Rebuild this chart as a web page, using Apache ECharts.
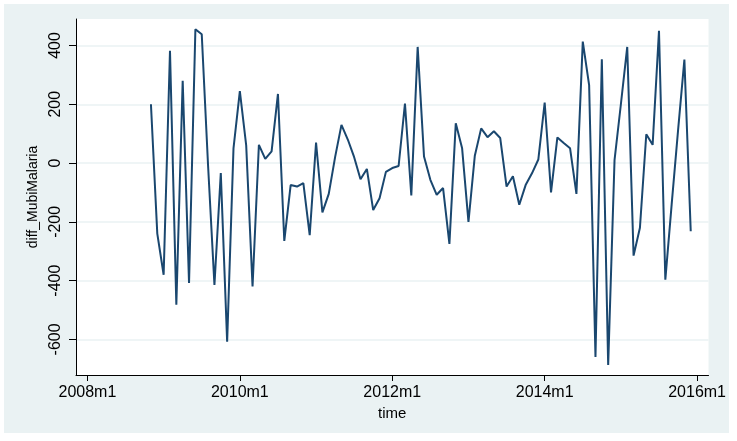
<!DOCTYPE html>
<html>
<head>
<meta charset="utf-8">
<script src="https://cdn.jsdelivr.net/npm/echarts@6/dist/echarts.min.js"></script>
<style>
  html, body { margin: 0; padding: 0; background: #ffffff; }
  #frame { position: absolute; left: 4px; top: 4px; width: 725px; height: 429px; background: #eaf2f3; }
  #chart { width: 725px; height: 429px; }
</style>
</head>
<body>
<div id="frame"><div id="chart"></div></div>
<script>
// monthly differences, first value is 2008m11
const firstYear = 2008;
const firstMonth = 11;
const vals2008 = [200, -240];
const vals2009 = [-380, 382, -482, 280, -408, 455, 438, -10, -415, -34, -608, 50];
const vals2010 = [245, 60, -420, 62, 14, 40, 235, -265, -75, -80, -68, -245];
const vals2011 = [70, -168, -105, 20, 130, 80, 20, -55, -20, -160, -120, -30];
const vals2012 = [-17, -10, 202, -110, 395, 22, -57, -108, -85, -275, 135, 50];
const vals2013 = [-200, 25, 118, 88, 108, 85, -80, -45, -142, -75, -35, 12];
const vals2014 = [206, -100, 87, 68, 50, -105, 413, 265, -660, 353, -687, 10];
const vals2015 = [200, 395, -315, -220, 98, 62, 450, -397, -140, 110, 352, -232];

const xTickYears = [2008, 2010, 2012, 2014, 2016];
const yTicks = [-600, -400, -200, 0, 200, 400];

const allVals = [].concat(vals2008, vals2009, vals2010, vals2011, vals2012, vals2013, vals2014, vals2015);
// x = months since 2008m1
const startIdx = (firstYear - 2008) * 12 + (firstMonth - 1);
const data = allVals.map((v, i) => [startIdx + i, v]);
const xTicks = xTickYears.map((y) => (y - 2008) * 12);

const font = 'Liberation Sans, Arial, sans-serif';
const chart = echarts.init(document.getElementById('chart'));

const option = {
  animation: false,
  grid: {
    left: 72,
    top: 15,
    right: 19,
    bottom: 58,
    show: true,
    backgroundColor: '#ffffff',
    borderWidth: 0,
  },
  xAxis: {
    type: 'value',
    min: -1.8,
    max: 97.8,
    name: 'time',
    nameLocation: 'middle',
    nameGap: 21,
    nameTextStyle: { color: '#000', fontSize: 15, fontFamily: font },
    axisLine: { show: true, onZero: false, lineStyle: { color: '#000', width: 1 } },
    axisTick: { show: true, length: 6, customValues: xTicks, lineStyle: { color: '#000' } },
    axisLabel: {
      customValues: xTicks,
      margin: 10,
      color: '#000',
      fontSize: 16,
      fontFamily: font,
      formatter: (v) => (2008 + Math.round(v / 12)) + 'm1',
    },
    splitLine: { show: false },
  },
  yAxis: {
    type: 'value',
    min: -721,
    max: 490,
    name: 'diff_MubiMalaria',
    nameLocation: 'middle',
    nameGap: 36,
    nameTextStyle: { color: '#000', fontSize: 14, fontFamily: font },
    axisLine: { show: true, onZero: false, lineStyle: { color: '#000', width: 1 } },
    axisTick: { show: true, length: 7, customValues: yTicks, lineStyle: { color: '#000' } },
    axisLabel: {
      customValues: yTicks,
      rotate: 90,
      margin: 12,
      color: '#000',
      fontSize: 16,
      fontFamily: font,
    },
    splitLine: { show: true, lineStyle: { color: '#eaf2f3', width: 1.5 } },
  },
  series: [
    {
      type: 'line',
      data: data,
      symbol: 'none',
      lineStyle: { color: '#1a476f', width: 2 },
    },
  ],
};

chart.setOption(option);
</script>
</body>
</html>
